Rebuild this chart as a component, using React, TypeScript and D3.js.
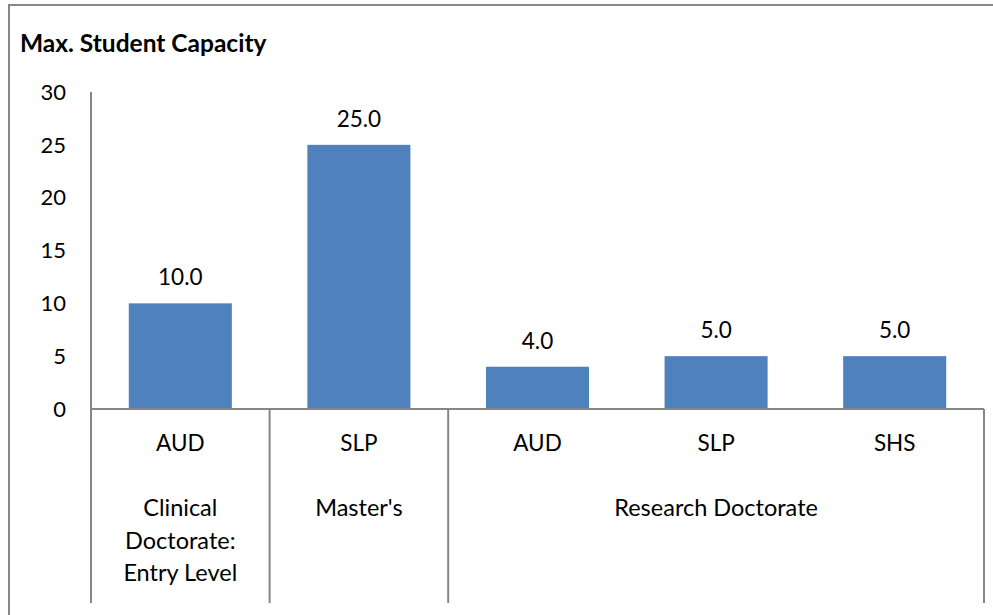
import React from 'react';
import * as d3 from 'd3';

const categories = ['AUD', 'SLP', 'AUD', 'SLP', 'SHS'];
const values = [10, 25, 4, 5, 5];
const groupLabels = [['Clinical', 'Doctorate:', 'Entry Level'], ["Master's"], ['Research Doctorate']];
const groupSpans = [1, 1, 3];
const yTicks = [0, 5, 10, 15, 20, 25, 30];
const title = 'Max. Student Capacity';

const W = 993;
const H = 615;
const left = 91;
const right = 984;
const top = 92;
const base = 409;
const bottom = 603;
const font = 'Lato, Calibri, sans-serif';
const axisColor = '#868686';

const App: React.FC = () => {
    const keys = categories.map((c, i) => `${i}`);
    const x = d3.scaleBand<string>()
        .domain(keys)
        .range([left, right])
        .paddingInner(0.423)
        .paddingOuter(0.2115);

    const y = d3.scaleLinear().domain([0, 30]).range([base, top]);

    const step = (right - left) / categories.length;

    // group boundaries in band units
    const bounds: number[] = [0];
    groupSpans.reduce((acc, s) => { bounds.push(acc + s); return acc + s; }, 0);

    return (
        <svg width={W} height={H} style={{ position: 'absolute', left: 0, top: 0, background: '#fff' }}>
            <rect x={9} y={5} width={W + 20} height={H + 20} fill="#fff" stroke="#878787" strokeWidth={2} />

            <text x={20} y={52} fontFamily={font} fontWeight="bold" fontSize={24.5} fill="#000">{title}</text>

            {yTicks.map(t => (
                <text key={t} x={66} y={y(t)} dy="0.35em" textAnchor="end"
                    fontFamily={font} fontSize={22} fill="#000">{t}</text>
            ))}

            {values.map((v, i) => (
                <g key={i}>
                    <rect x={x(keys[i])} y={y(v)} width={x.bandwidth()} height={base - y(v)} fill="#4F81BD" />
                    <text x={(x(keys[i]) as number) + x.bandwidth() / 2} y={y(v) - 18} textAnchor="middle"
                        fontFamily={font} fontSize={22.5} fill="#000">{v.toFixed(1)}</text>
                    <text x={(x(keys[i]) as number) + x.bandwidth() / 2} y={451} textAnchor="middle"
                        fontFamily={font} fontSize={22.5} fill="#000">{categories[i]}</text>
                </g>
            ))}

            {groupLabels.map((lines, gi) => {
                const cx = left + step * (bounds[gi] + bounds[gi + 1]) / 2;
                return (
                    <text key={gi} x={cx} y={516} textAnchor="middle" fontFamily={font} fontSize={23.5} fill="#000">
                        {lines.map((l, li) => (
                            <tspan key={li} x={cx} dy={li === 0 ? 0 : 32.5}>{l}</tspan>
                        ))}
                    </text>
                );
            })}

            {/* axes and category separators */}
            <line x1={left} x2={left} y1={top} y2={bottom} stroke={axisColor} strokeWidth={2} />
            <line x1={left} x2={right} y1={base} y2={base} stroke={axisColor} strokeWidth={2} />
            {bounds.slice(1).map((b, i) => (
                <line key={i} x1={left + step * b} x2={left + step * b} y1={base} y2={bottom}
                    stroke={axisColor} strokeWidth={2} />
            ))}
        </svg>
    );
};

export default App;
